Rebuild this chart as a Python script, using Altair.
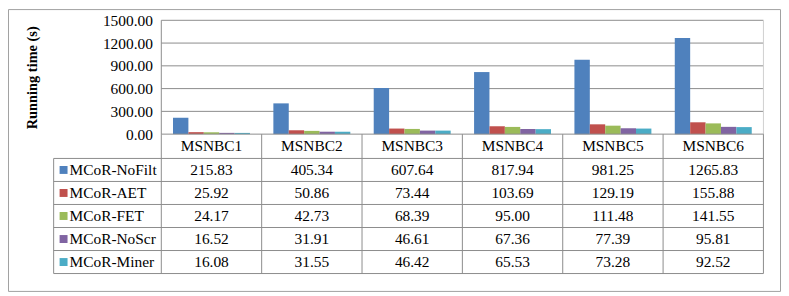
import altair as alt
import pandas as pd

# ---------------- data ----------------
categories = ["MSNBC1", "MSNBC2", "MSNBC3", "MSNBC4", "MSNBC5", "MSNBC6"]
series = ["MCoR-NoFilt", "MCoR-AET", "MCoR-FET", "MCoR-NoScr", "MCoR-Miner"]
nofilt = [215.83, 405.34, 607.64, 817.94, 981.25, 1265.83]
aet = [25.92, 50.86, 73.44, 103.69, 129.19, 155.88]
fet = [24.17, 42.73, 68.39, 95.00, 111.48, 141.55]
noscr = [16.52, 31.91, 46.61, 67.36, 77.39, 95.81]
miner = [16.08, 31.55, 46.42, 65.53, 73.28, 92.52]
y_ticks = [0, 300, 600, 900, 1200, 1500]
colors = ["#4F81BD", "#C0504D", "#9BBB59", "#8064A2", "#4BACC6"]

# ---------------- layout (pixels inside the view) ----------------
W, H = 778, 284
PLOT_L, PLOT_R = 154.5, 761.3
PLOT_TOP, PLOT_ZERO = 11.3, 126.0
LEG_L = 46.0
ROW_PX = [126.0, 150.5, 173.7, 196.9, 220.1, 243.3, 266.5]
LEG_SQ_PX = 56.0
LEG_TXT_PX = 62.0
YMAX = 1500.0
FONT = "Liberation Serif"
LINE = "#8c8c8c"

ncol = len(categories)
col_w = (PLOT_R - PLOT_L) / ncol


def px2u(px):
    return (px - PLOT_L) / col_w


def py2v(py):
    return (PLOT_ZERO - py) * YMAX / (PLOT_ZERO - PLOT_TOP)


x_dom = [px2u(0), px2u(W)]
y_dom = [py2v(H), py2v(0)]
row_v = [py2v(p) for p in ROW_PX]

xs = alt.Scale(domain=x_dom, nice=False, zero=False)
ys = alt.Scale(domain=y_dom, nice=False, zero=False)

values = [nofilt, aet, fet, noscr, miner]
rows = []
for si, s in enumerate(series):
    for ci, c in enumerate(categories):
        rows.append({
            "series": s, "category": c, "value": values[si][ci],
            "xc": ci + 0.5,
            "yc": (row_v[si + 1] + row_v[si + 2]) / 2,
        })
df = pd.DataFrame(rows)

color = alt.Color("series:N", scale=alt.Scale(domain=series, range=colors), legend=None)

# grid lines
grid_df = pd.DataFrame({"y": y_ticks[1:], "x0": 0, "x1": ncol})
grid = alt.Chart(grid_df).mark_rule(color=LINE, strokeWidth=1).encode(
    x=alt.X("x0:Q", scale=xs, axis=None), x2="x1:Q",
    y=alt.Y("y:Q", scale=ys, axis=None),
)

# plot frame sides
side_df = pd.DataFrame({"x": [0, ncol], "y0": [0, 0], "y1": [YMAX, YMAX],
                        "c": [LINE, "#d0d0d0"]})
sides = alt.Chart(side_df).mark_rule(strokeWidth=1).encode(
    x=alt.X("x:Q", scale=xs, axis=None),
    y=alt.Y("y0:Q", scale=ys, axis=None), y2="y1:Q",
    color=alt.Color("c:N", scale=None),
)

# bars
bars = alt.Chart(df).mark_bar().encode(
    x=alt.X("category:N", scale=alt.Scale(domain=categories, range=[PLOT_L, PLOT_R],
                                          paddingInner=0, paddingOuter=0), axis=None),
    xOffset=alt.XOffset("series:N", scale=alt.Scale(domain=series, paddingInner=0,
                                                   paddingOuter=0.76)),
    y=alt.Y("value:Q", scale=ys,
            axis=alt.Axis(orient="left", values=y_ticks, format=".2f", offset=-PLOT_L,
                          domain=False, ticks=False, grid=False, labelPadding=9,
                          labelFont=FONT, labelFontSize=15.5, labelColor="black",
                          labelBaseline="middle",
                          title="Running time (s)", titleFont=FONT, titleFontSize=14.5,
                          titleFontWeight="bold", titleColor="black", titleAngle=270,
                          titleBaseline="middle", titleAlign="center",
                          titleX=25 - PLOT_L, titleY=68.7)),
    color=color,
)

# table horizontal lines
h_rows = [{"y": row_v[0], "x0": 0, "x1": ncol}]
for v in row_v[1:]:
    h_rows.append({"y": v, "x0": px2u(LEG_L), "x1": ncol})
hlines = alt.Chart(pd.DataFrame(h_rows)).mark_rule(color=LINE, strokeWidth=1).encode(
    x=alt.X("x0:Q", scale=xs, axis=None), x2="x1:Q",
    y=alt.Y("y:Q", scale=ys, axis=None),
)

# table vertical lines
v_rows = [{"x": px2u(LEG_L), "y0": row_v[1], "y1": row_v[-1]}]
for c in range(ncol + 1):
    v_rows.append({"x": c, "y0": row_v[0], "y1": row_v[-1]})
vlines = alt.Chart(pd.DataFrame(v_rows)).mark_rule(color=LINE, strokeWidth=1).encode(
    x=alt.X("x:Q", scale=xs, axis=None),
    y=alt.Y("y0:Q", scale=ys, axis=None), y2="y1:Q",
)

# header labels
head_df = pd.DataFrame({"category": categories,
                        "xc": [i + 0.5 for i in range(ncol)],
                        "yc": (row_v[0] + row_v[1]) / 2})
header = alt.Chart(head_df).mark_text(font=FONT, fontSize=15.5, color="black",
                                      baseline="middle", align="center").encode(
    x=alt.X("xc:Q", scale=xs, axis=None),
    y=alt.Y("yc:Q", scale=ys, axis=None),
    text="category:N",
)

# cell values
cells = alt.Chart(df).mark_text(font=FONT, fontSize=15.5, color="black",
                                baseline="middle", align="center").encode(
    x=alt.X("xc:Q", scale=xs, axis=None),
    y=alt.Y("yc:Q", scale=ys, axis=None),
    text=alt.Text("value:Q", format=".2f"),
)

# legend column
leg_df = pd.DataFrame({"series": series,
                       "xs": px2u(LEG_SQ_PX), "xt": px2u(LEG_TXT_PX),
                       "yc": [(row_v[i + 1] + row_v[i + 2]) / 2 for i in range(len(series))]})
leg_sq = alt.Chart(leg_df).mark_square(size=64, opacity=1).encode(
    x=alt.X("xs:Q", scale=xs, axis=None),
    y=alt.Y("yc:Q", scale=ys, axis=None),
    color=color,
)
leg_txt = alt.Chart(leg_df).mark_text(font=FONT, fontSize=15.5, color="black",
                                      baseline="middle", align="left").encode(
    x=alt.X("xt:Q", scale=xs, axis=None),
    y=alt.Y("yc:Q", scale=ys, axis=None),
    text="series:N",
)

chart = alt.layer(grid, sides, bars, hlines, vlines, header, cells, leg_sq, leg_txt).resolve_scale(
    x="independent", y="independent"
).properties(
    width=W, height=H,
    padding={"left": 0, "top": 0, "right": 1, "bottom": 1},
    autosize=alt.AutoSizeParams(type="none"),
    background="white",
).configure_view(stroke="#a0a0a0", strokeWidth=1)

chart.save("out.html", embed_options={"renderer": "svg", "actions": False})
